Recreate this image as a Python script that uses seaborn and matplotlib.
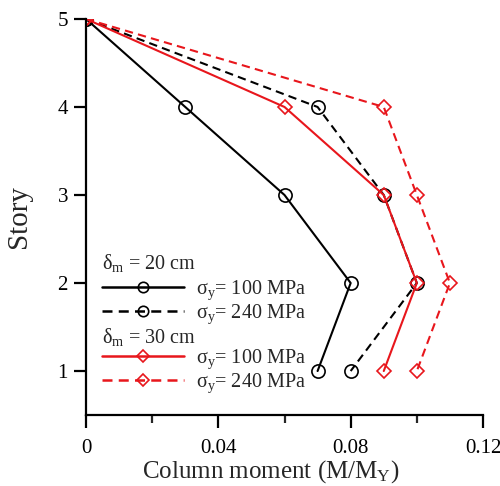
import matplotlib
matplotlib.use("Agg")
import matplotlib.pyplot as plt
from matplotlib.lines import Line2D
import seaborn as sns
import pandas as pd

stories = [5, 4, 3, 2, 1]
m20_100 = [0.0, 0.03, 0.06, 0.08, 0.07]
m20_240 = [0.0, 0.07, 0.09, 0.10, 0.08]
m30_100 = [0.0, 0.06, 0.09, 0.10, 0.09]
m30_240 = [0.0, 0.09, 0.10, 0.11, 0.10]
xticks = [0, 0.04, 0.08, 0.12]
xtick_labels = ["0", "0.04", "0.08", "0.12"]
yticks = [1, 2, 3, 4, 5]

sns.set_theme(style="ticks")
plt.rcParams['font.family'] = ['Liberation Serif', 'DejaVu Serif']
plt.rcParams['mathtext.fontset'] = 'custom'
plt.rcParams['mathtext.rm'] = 'Liberation Serif'
plt.rcParams['mathtext.it'] = 'Liberation Serif:italic'

RED = '#e8161c'
fig = plt.figure(figsize=(5.0, 4.86), dpi=100)
ax = fig.add_axes([0.172, 0.146, 0.794, 0.815])

series = [
    (m20_100, 'black', None, 'o', 9.5),
    (m20_240, 'black', (4, 2.5), 'o', 9.5),
    (m30_100, RED, None, 'D', 7),
    (m30_240, RED, (4, 2.5), 'D', 7),
]
for vals, col, dash, mk, ms in series:
    df = pd.DataFrame({"moment": vals, "story": stories})
    sns.lineplot(data=df, x="moment", y="story", orient="y", sort=False,
                 estimator=None, color=col, lw=1.5, ax=ax)
    ln = ax.lines[-1]
    if dash is not None:
        ln.set_dashes(dash)
    ln.set_marker(mk)
    ln.set_markersize(ms)
    ln.set_markerfacecolor('none')
    ln.set_markeredgecolor(col)
    ln.set_markeredgewidth(1.2)

ax.set_xlim(0, 0.12)
ax.set_ylim(0.5, 5)
ax.set_xticks(xticks)
ax.set_xticklabels(xtick_labels)
ax.set_xticks([0.02, 0.06, 0.10], minor=True)
ax.set_yticks(yticks)
ax.tick_params(axis='both', which='major', direction='out', length=9, width=1.6,
               labelsize=15, colors='black', pad=4)
ax.tick_params(axis='x', which='major', pad=8)
ax.tick_params(axis='x', which='minor', direction='out', length=6, width=1.6)
for s in ['top', 'right']:
    ax.spines[s].set_visible(False)
for s in ['left', 'bottom']:
    ax.spines[s].set_linewidth(1.6)
    ax.spines[s].set_color('black')
ax.set_xlabel(r"Column moment (M/M$_\mathregular{Y}$)", fontsize=18)
ax.xaxis.label.set_va('baseline')
ax.xaxis.set_label_coords(0.466, -0.157)
ax.set_ylabel("Story", fontsize=21, labelpad=18)

def h(col, dash, mk, ms):
    l = Line2D([], [], color=col, lw=1.8, marker=mk, markersize=ms,
               markerfacecolor='none', markeredgecolor=col, markeredgewidth=1.2)
    if dash is not None:
        l.set_dashes(dash)
    return l

lab100 = "σ$_\\mathregular{y}$= 100 MPa"
lab240 = "σ$_\\mathregular{y}$= 240 MPa"
kw = dict(frameon=False, fontsize=14.5, handlelength=4.1, handletextpad=0.55,
          labelspacing=0.05, borderpad=0, borderaxespad=0, loc='center left')
leg1 = ax.legend([h('black', None, 'o', 7.5), h('black', (4, 2.5), 'o', 7.5)],
                 [lab100, lab240], bbox_to_anchor=(0.04, 0.285), **kw)
ax.add_artist(leg1)
leg2 = ax.legend([h(RED, None, 'D', 6), h(RED, (4, 2.5), 'D', 6)],
                 [lab100, lab240], bbox_to_anchor=(0.04, 0.11), **kw)
ax.text(0.04, 0.385, "δ$_\\mathregular{m}$ = 20 cm", transform=ax.transAxes,
        fontsize=14.5, va='center', ha='left')
ax.text(0.04, 0.198, "δ$_\\mathregular{m}$ = 30 cm", transform=ax.transAxes,
        fontsize=14.5, va='center', ha='left')

fig.savefig("out.png", dpi=100)
